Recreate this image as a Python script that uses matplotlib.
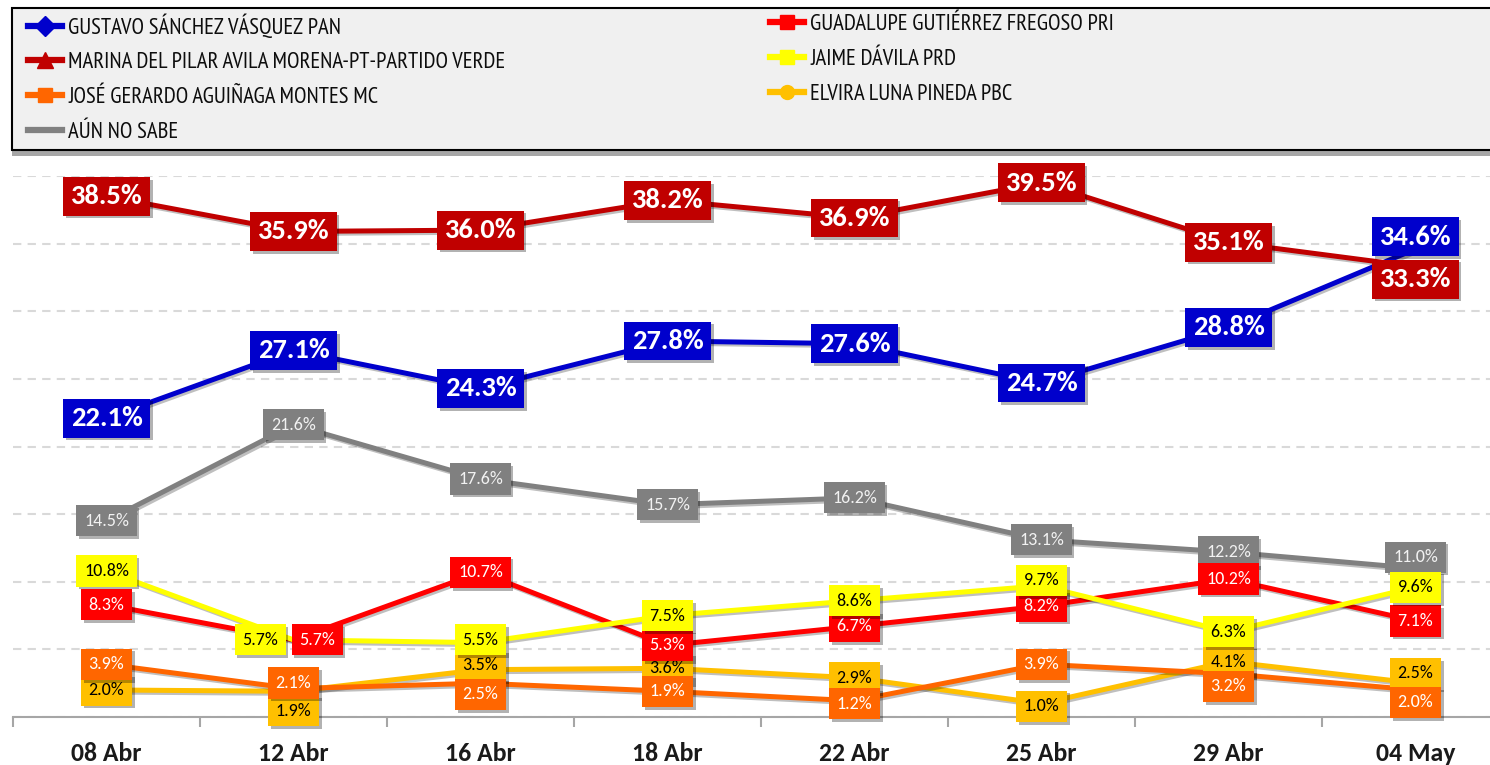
import matplotlib
matplotlib.use('Agg')
import matplotlib.pyplot as plt
import matplotlib.patheffects as pe
from matplotlib.lines import Line2D
from matplotlib.patches import Rectangle

# Data
fechas = ['08 Abr', '12 Abr', '16 Abr', '18 Abr', '22 Abr', '25 Abr', '29 Abr', '04 May']

gustavo = [22.1, 27.1, 24.3, 27.8, 27.6, 24.7, 28.8, 34.6]
marina = [38.5, 35.9, 36.0, 38.2, 36.9, 39.5, 35.1, 33.3]
jose = [3.9, 2.1, 2.5, 1.9, 1.2, 3.9, 3.2, 2.0]
no_sabe = [14.5, 21.6, 17.6, 15.7, 16.2, 13.1, 12.2, 11.0]
guadalupe = [8.3, 5.7, 10.7, 5.3, 6.7, 8.2, 10.2, 7.1]
jaime = [10.8, 5.7, 5.5, 7.5, 8.6, 9.7, 6.3, 9.6]
elvira = [2.0, 1.9, 3.5, 3.6, 2.9, 1.0, 4.1, 2.5]

# Settings: key, legend name, values, line color, text color, legend marker, big label
series = [
    ('gustavo', 'GUSTAVO SÁNCHEZ VÁSQUEZ PAN', gustavo, '#0000CC', 'white', 'D', True),
    ('marina', 'MARINA DEL PILAR AVILA MORENA-PT-PARTIDO VERDE', marina, '#C00000', 'white', '^', True),
    ('jose', 'JOSÉ GERARDO AGUIÑAGA MONTES MC', jose, '#FF6600', 'white', 's', False),
    ('no_sabe', 'AÚN NO SABE', no_sabe, '#808080', '#F2F2F2', None, False),
    ('guadalupe', 'GUADALUPE GUTIÉRREZ FREGOSO PRI', guadalupe, '#FF0000', 'white', 's', False),
    ('jaime', 'JAIME DÁVILA PRD', jaime, '#FFFF00', 'black', 's', False),
    ('elvira', 'ELVIRA LUNA PINEDA PBC', elvira, '#FFC000', 'black', 'o', False),
]

# label nudges (points) where boxes would collide
nudge = {
    ('gustavo', 7): (0, 9), ('marina', 7): (0, -9), ('no_sabe', 7): (0, 8),
    ('jaime', 1): (-24, 0), ('guadalupe', 1): (17, 0),
    ('jose', 1): (0, 4), ('elvira', 1): (0, -14),
    ('jose', 2): (0, -8), ('elvira', 2): (0, 3), ('jaime', 2): (0, 2),
    ('jose', 4): (0, -2), ('jaime', 5): (0, 4), ('elvira', 5): (0, -2),
    ('jose', 6): (0, -9), ('elvira', 7): (0, 7), ('jose', 7): (0, -9),
}

FONT = ['Carlito', 'Lato', 'DejaVu Sans']
LEG_FONT = ['PT Sans Narrow', 'Carlito', 'Lato', 'DejaVu Sans']

W, H = 1490, 765
fig = plt.figure(figsize=(W / 100, H / 100), dpi=100)
ax = fig.add_axes([13 / W, 48 / H, 1496 / W, (717 - 176) / H])

x = list(range(len(fechas)))
draw_order = ['no_sabe', 'elvira', 'jose', 'guadalupe', 'jaime', 'gustavo', 'marina']
by_key = {s[0]: s for s in series}

line_fx = [pe.SimpleLineShadow(offset=(1.5, -1.5), alpha=0.25, shadow_color='black'), pe.Normal()]
for key in draw_order:
    _, name, vals, col, tcol, mk, big = by_key[key]
    ax.plot(x, vals, color=col, linewidth=3.6, solid_capstyle='round', zorder=3,
            path_effects=line_fx)

for key in draw_order:
    _, name, vals, col, tcol, mk, big = by_key[key]
    for i, v in enumerate(vals):
        dx, dy = nudge.get((key, i), (0, 0))
        t = ax.annotate(f'{v:.1f}%', (i, v), xytext=(dx, dy), textcoords='offset points',
                        ha='center', va='center', color=tcol, family=FONT,
                        fontsize=20.5 if big else 13, fontweight='bold' if big else 'normal',
                        bbox=dict(boxstyle='square,pad=0.26' if big else 'square,pad=0.42',
                                  fc=col, ec='none'),
                        zorder=6, annotation_clip=False)
        t.get_bbox_patch().set_path_effects(
            [pe.withSimplePatchShadow(offset=(2, -2), alpha=0.3, shadow_rgbFace='black')])

# Axes styling
ax.set_xlim(-0.5, len(fechas) - 0.5)
ax.set_ylim(0, 40)
ax.set_yticks(range(0, 45, 5))
ax.yaxis.grid(True, color='#D9D9D9', linestyle=(0, (4, 3)), linewidth=1.5)
ax.set_axisbelow(True)
ax.tick_params(axis='y', length=0, labelleft=False)
ax.set_xticks(x)
ax.set_xticklabels(fechas, fontsize=18.5, fontweight='bold', family=FONT, color='#1A1A1A')
ax.set_xticks([i - 0.5 for i in range(len(fechas) + 1)], minor=True)
ax.tick_params(axis='x', which='major', length=0, pad=18)
ax.tick_params(axis='x', which='minor', length=7, width=1.5, color='#A6A6A6', direction='out')
for s in ['top', 'right', 'left']:
    ax.spines[s].set_visible(False)
ax.spines['bottom'].set_color('#A6A6A6')
ax.spines['bottom'].set_linewidth(1.5)
ax.patch.set_alpha(0)

# Legend box
box = Rectangle((12 / W, 1 - 150 / H), 1500 / W, 142 / H, transform=fig.transFigure,
                facecolor='#F0F0F0', edgecolor='black', linewidth=1.5, zorder=0)
box.set_path_effects([pe.withSimplePatchShadow(offset=(0, -4), alpha=0.35, shadow_rgbFace='black')])
fig.patches.append(box)

handles = []
for key, name, vals, col, tcol, mk, big in series:
    handles.append(Line2D([], [], color=col, linewidth=4.5, marker=mk,
                          markersize=10 if mk != '^' else 11, markeredgecolor=col, label=name))

legend_font = {'family': LEG_FONT, 'size': 16.3}
leg_kw = dict(loc='upper left', frameon=False, prop=legend_font, handlelength=1.5,
              handletextpad=0.27, labelspacing=0.61, borderpad=0, borderaxespad=0)
leg1 = fig.legend(handles=handles[:4], bbox_to_anchor=(28 / W, 1 - 14 / H), **leg_kw)
leg2 = fig.legend(handles=handles[4:], bbox_to_anchor=(770 / W, 1 - 14 / H), **leg_kw)
for lg in (leg1, leg2):
    for txt in lg.get_texts():
        txt.set_color('#0D0D0D')

fig.savefig('out.png', dpi=100, facecolor='white')
